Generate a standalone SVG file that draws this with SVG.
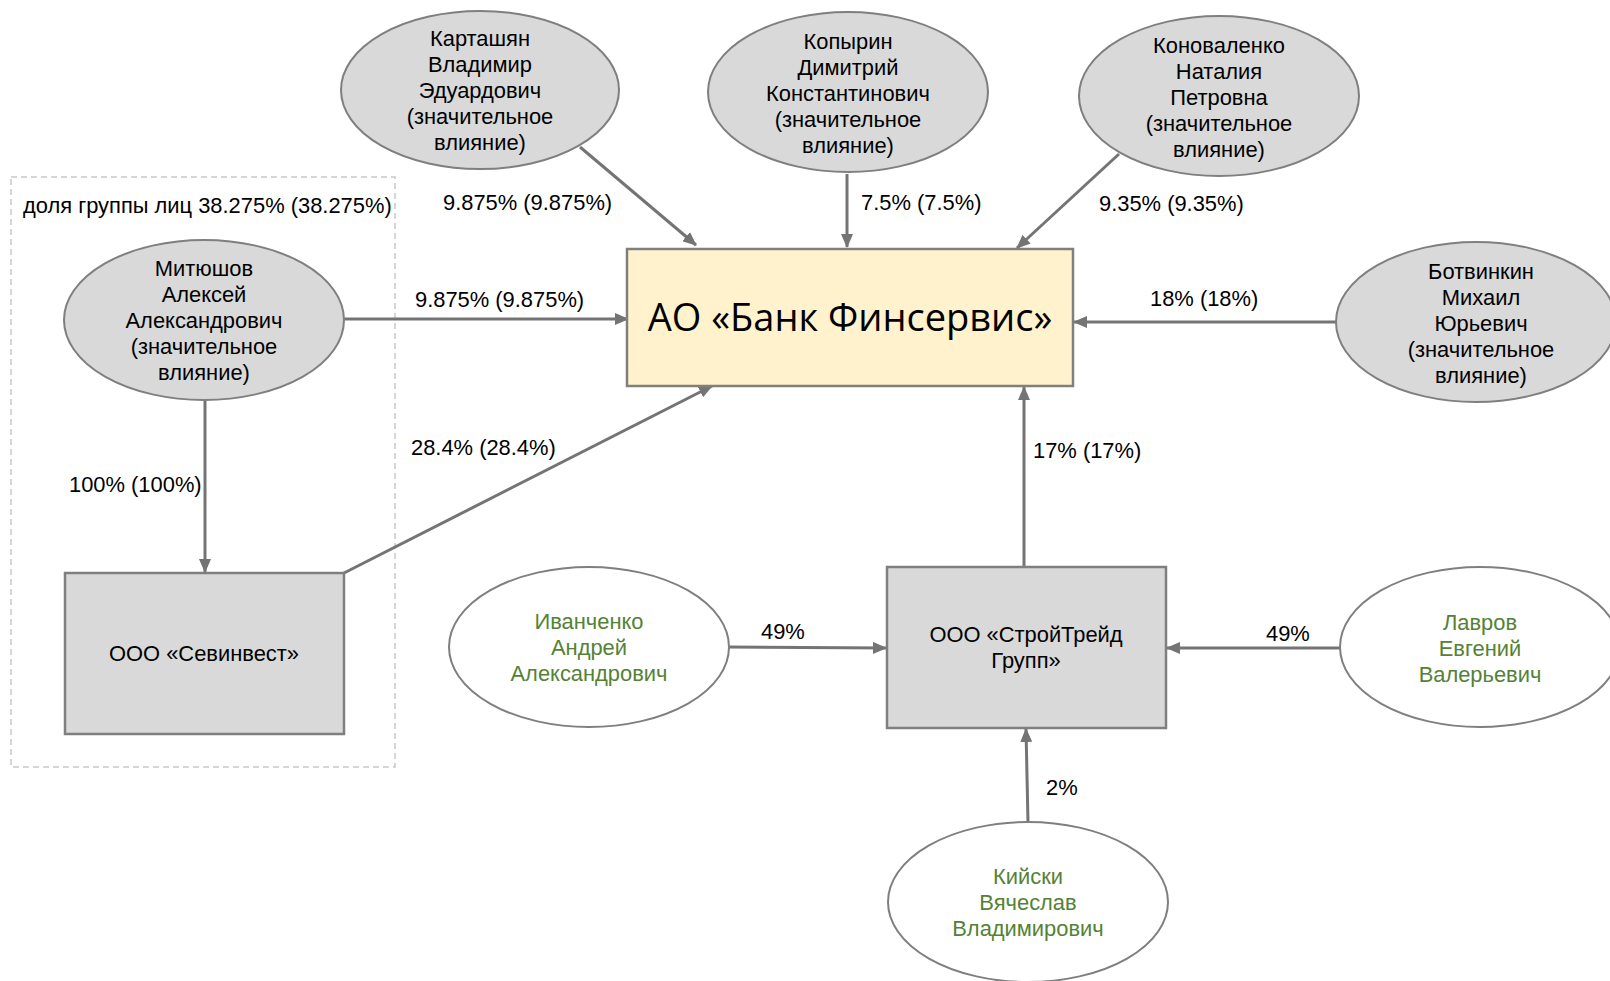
<svg xmlns="http://www.w3.org/2000/svg" width="1610" height="981" viewBox="0 0 1610 981">
<style>
text{font-family:"Liberation Sans",Arial,sans-serif;font-size:21.9px;fill:#000}
.c{text-anchor:middle}
.g{fill:#548235}
.en{fill:#d9d9d9;stroke:#7f7f7f;stroke-width:2}
.ew{fill:#ffffff;stroke:#7f7f7f;stroke-width:2}
.rn{fill:#d9d9d9;stroke:#7f7f7f;stroke-width:2.5}
.e{stroke:#747474;stroke-width:3;fill:none;marker-end:url(#a)}
.title{font-family:"Open Sans","Noto Sans",sans-serif;font-size:38px}
</style>
<defs>
<marker id="a" markerUnits="userSpaceOnUse" markerWidth="14" markerHeight="12" refX="13" refY="6" orient="auto">
<path d="M0,0 L14,6 L0,12 z" fill="#747474"/>
</marker>
</defs>
<rect width="1610" height="981" fill="#ffffff"/>
<g id="group-box">
<rect x="11" y="177" width="384" height="590" fill="none" stroke="#c9c9c9" stroke-width="1.5" stroke-dasharray="6,4"/>
<text x="23" y="213">доля группы лиц 38.275% (38.275%)</text>
</g>
<g id="connectors">
<line class="e" x1="580" y1="147" x2="696" y2="245"/>
<line class="e" x1="847" y1="174" x2="847" y2="247"/>
<line class="e" x1="1119" y1="154" x2="1017" y2="248"/>
<line class="e" x1="344" y1="319" x2="628" y2="319"/>
<line class="e" x1="1336" y1="322" x2="1074" y2="322"/>
<line class="e" x1="344" y1="573" x2="712" y2="386"/>
<line class="e" x1="1024" y1="567" x2="1024" y2="387"/>
<line class="e" x1="205" y1="400" x2="205" y2="572"/>
<line class="e" x1="729" y1="647" x2="886" y2="648"/>
<line class="e" x1="1340" y1="648" x2="1167" y2="648"/>
<line class="e" x1="1028" y1="822" x2="1026" y2="729"/>
<text x="443" y="210">9.875% (9.875%)</text>
<text x="861" y="210">7.5% (7.5%)</text>
<text x="1099" y="211">9.35% (9.35%)</text>
<text x="415" y="307">9.875% (9.875%)</text>
<text x="1150" y="306">18% (18%)</text>
<text x="411" y="455">28.4% (28.4%)</text>
<text x="1033" y="458">17% (17%)</text>
<text x="69" y="492">100% (100%)</text>
<text x="761" y="639">49%</text>
<text x="1266" y="641">49%</text>
<text x="1046" y="795">2%</text>
</g>
<g id="bank">
<rect x="627" y="249" width="446" height="137" fill="#fff2cc" stroke="#7f7f7f" stroke-width="2.5"/>
<text class="c title" x="850" y="331">АО «Банк Финсервис»</text>
</g>
<g id="kartashyan">
<ellipse class="en" cx="480" cy="90" rx="139" ry="79"/>
<text class="c" x="480" y="46">Карташян</text>
<text class="c" x="480" y="72">Владимир</text>
<text class="c" x="480" y="98">Эдуардович</text>
<text class="c" x="480" y="124">(значительное</text>
<text class="c" x="480" y="150">влияние)</text>
</g>
<g id="kopyrin">
<ellipse class="en" cx="848" cy="92" rx="140" ry="80"/>
<text class="c" x="848" y="49">Копырин</text>
<text class="c" x="848" y="75">Димитрий</text>
<text class="c" x="848" y="101">Константинович</text>
<text class="c" x="848" y="127">(значительное</text>
<text class="c" x="848" y="153">влияние)</text>
</g>
<g id="kovalenko">
<ellipse class="en" cx="1219" cy="96" rx="140" ry="80"/>
<text class="c" x="1219" y="53">Коноваленко</text>
<text class="c" x="1219" y="79">Наталия</text>
<text class="c" x="1219" y="105">Петровна</text>
<text class="c" x="1219" y="131">(значительное</text>
<text class="c" x="1219" y="157">влияние)</text>
</g>
<g id="mityushov">
<ellipse class="en" cx="204" cy="320" rx="140" ry="80"/>
<text class="c" x="204" y="276">Митюшов</text>
<text class="c" x="204" y="302">Алексей</text>
<text class="c" x="204" y="328">Александрович</text>
<text class="c" x="204" y="354">(значительное</text>
<text class="c" x="204" y="380">влияние)</text>
</g>
<g id="botvinkin">
<ellipse class="en" cx="1476" cy="322" rx="140" ry="80"/>
<text class="c" x="1481" y="279">Ботвинкин</text>
<text class="c" x="1481" y="305">Михаил</text>
<text class="c" x="1481" y="331">Юрьевич</text>
<text class="c" x="1481" y="357">(значительное</text>
<text class="c" x="1481" y="383">влияние)</text>
</g>
<g id="sevinvest">
<rect class="rn" x="65" y="573" width="279" height="161"/>
<text class="c" x="204" y="661">ООО «Севинвест»</text>
</g>
<g id="stroytrade">
<rect class="rn" x="887" y="567" width="279" height="161"/>
<text class="c" x="1026" y="642">ООО «СтройТрейд</text>
<text class="c" x="1026" y="668">Групп»</text>
</g>
<g id="ivanchenko">
<ellipse class="ew" cx="589" cy="647" rx="140" ry="80"/>
<text class="c g" x="589" y="629">Иванченко</text>
<text class="c g" x="589" y="655">Андрей</text>
<text class="c g" x="589" y="681">Александрович</text>
</g>
<g id="lavrov">
<ellipse class="ew" cx="1480" cy="647" rx="140" ry="80"/>
<text class="c g" x="1480" y="630">Лавров</text>
<text class="c g" x="1480" y="656">Евгений</text>
<text class="c g" x="1480" y="682">Валерьевич</text>
</g>
<g id="kiyski">
<ellipse class="ew" cx="1028" cy="902" rx="140" ry="80"/>
<text class="c g" x="1028" y="884">Кийски</text>
<text class="c g" x="1028" y="910">Вячеслав</text>
<text class="c g" x="1028" y="936">Владимирович</text>
</g>
</svg>
